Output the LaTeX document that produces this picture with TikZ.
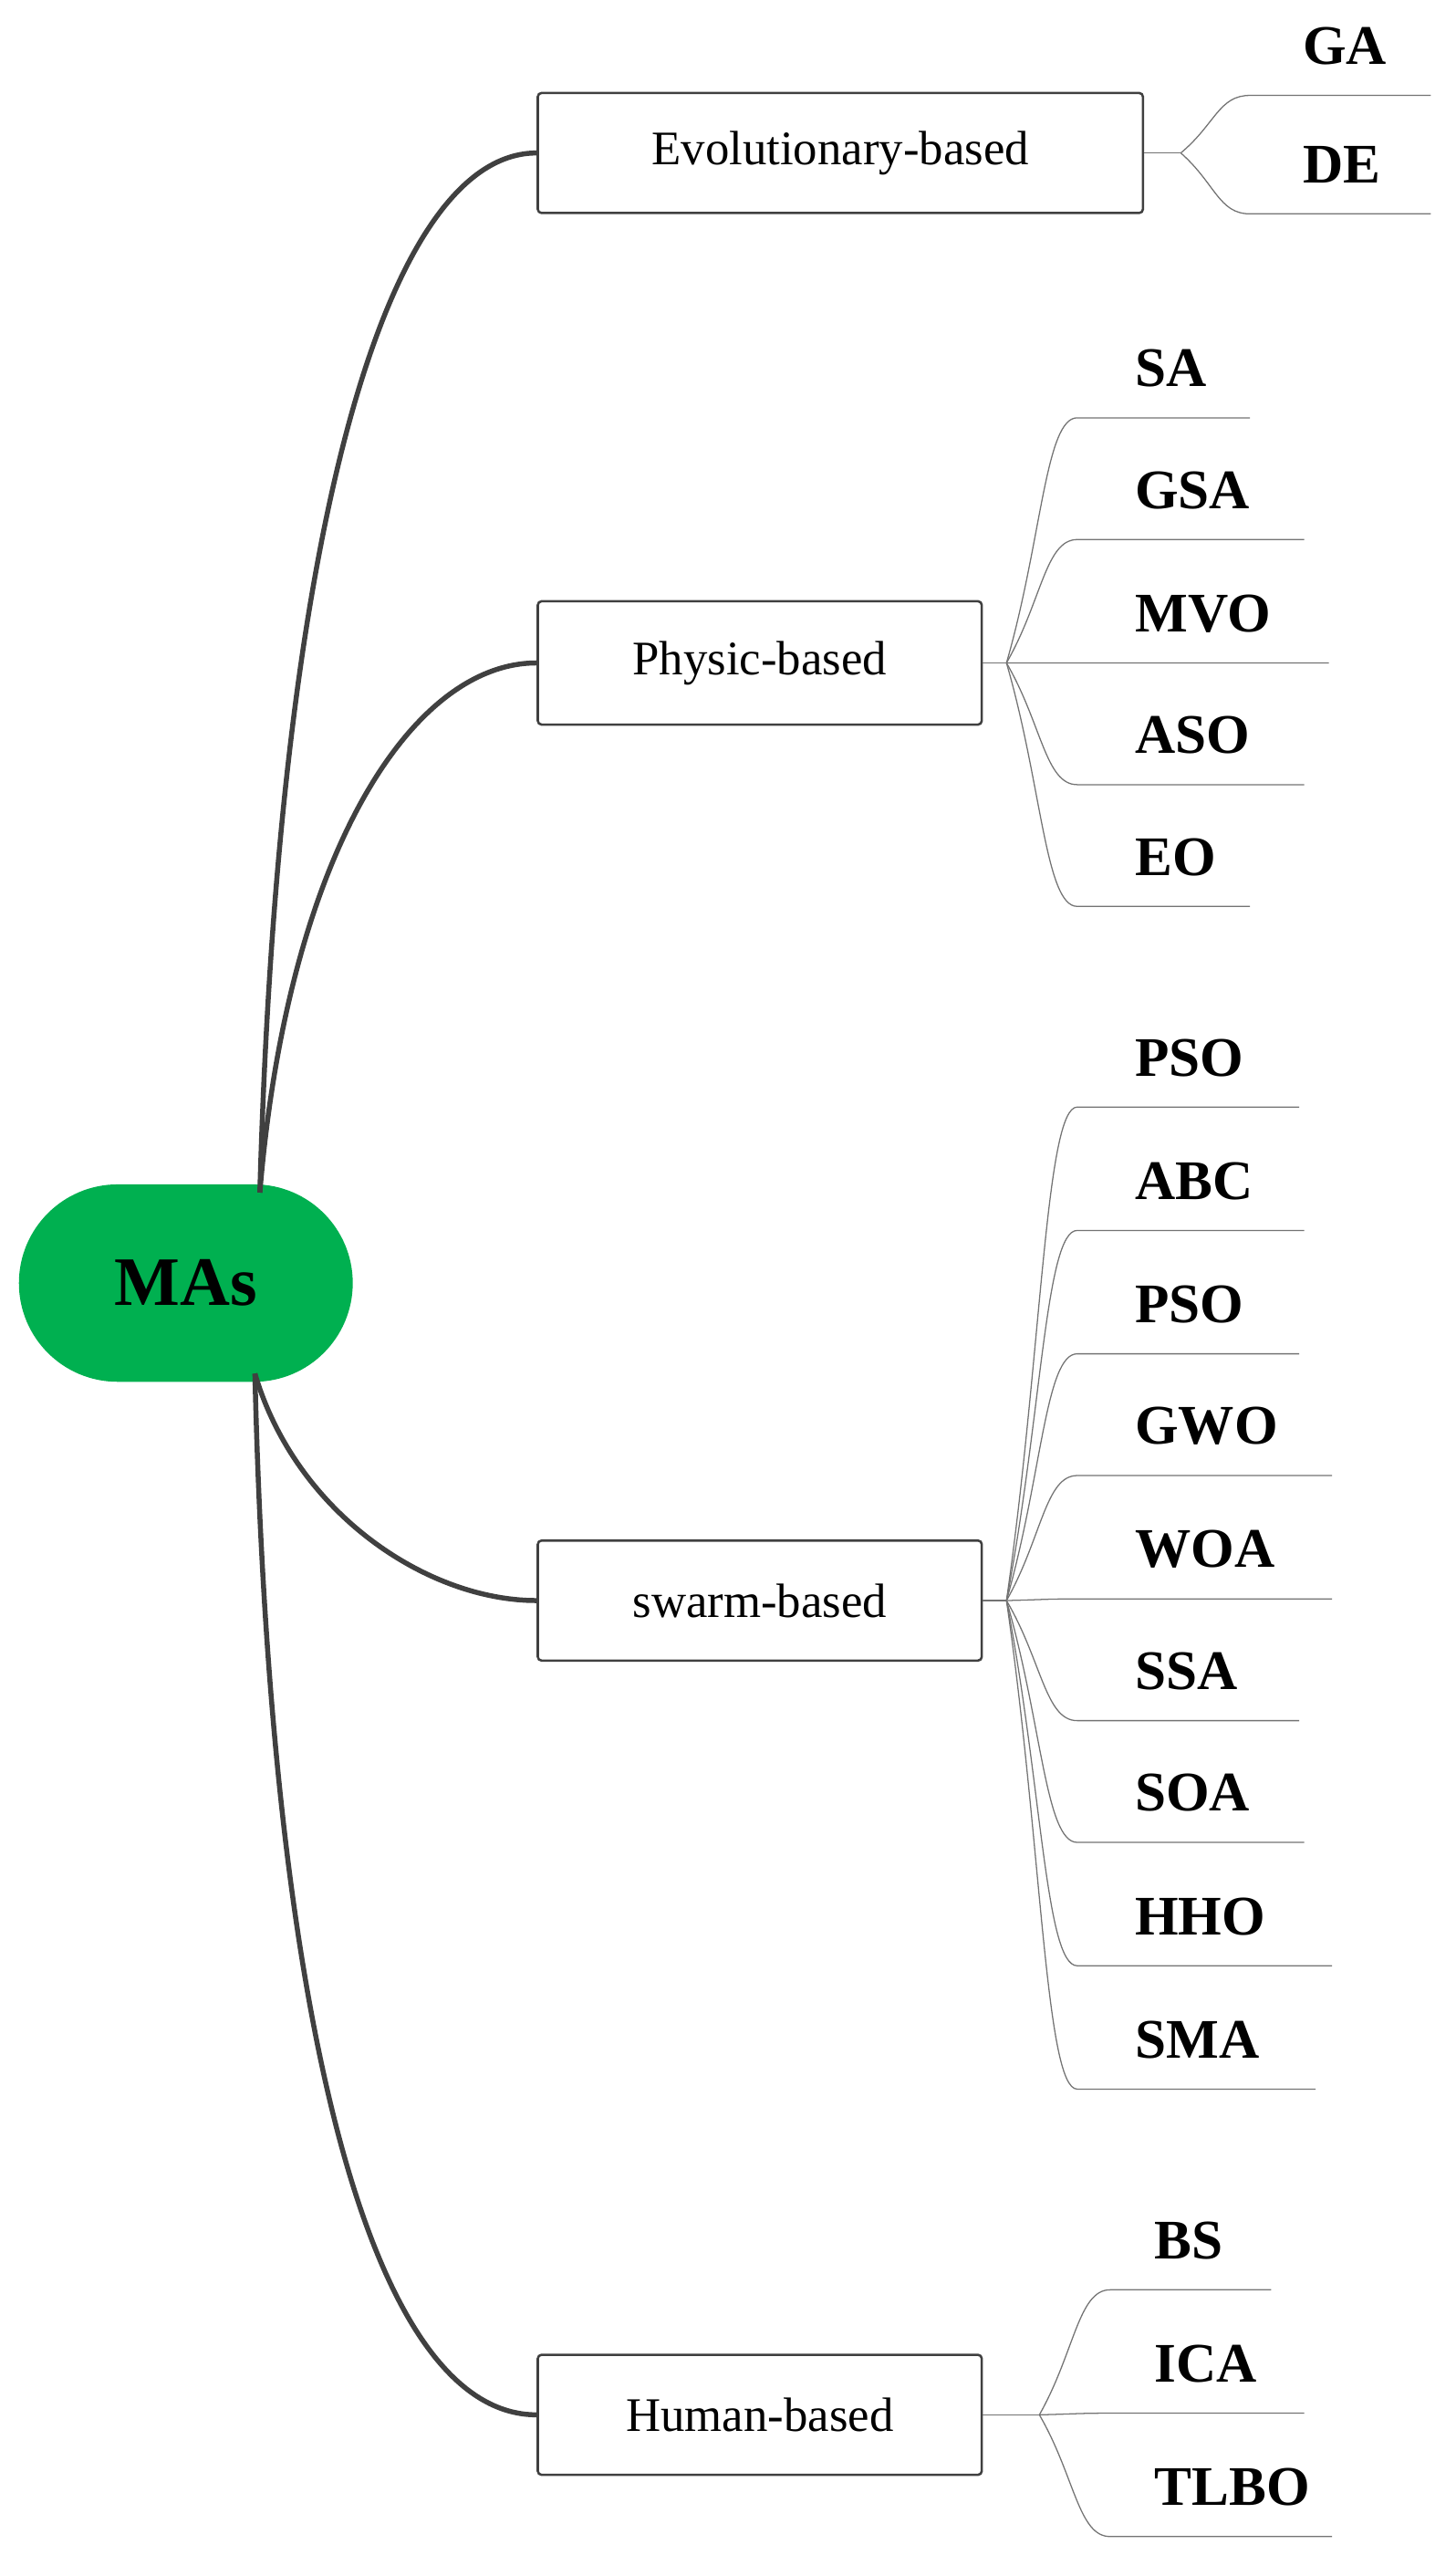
\documentclass[tikz,border=0pt]{standalone}
\usepackage{fontspec}
\setmainfont{Liberation Serif}
\usetikzlibrary{calc}
\definecolor{mgreen}{HTML}{00B050}
\definecolor{lgray}{HTML}{404040}
\begin{document}
\begin{tikzpicture}[x=0.03cm,y=-0.03cm,
  cat/.style={draw=lgray,line width=1.2pt,rounded corners=2pt,fill=white,inner sep=0pt,font=\fontsize{25}{29}\selectfont},
  leaf/.style={anchor=west,inner sep=0pt,font=\bfseries\fontsize{29}{34}\selectfont},
  main/.style={draw=lgray,line width=2.6pt},
  thin/.style={draw=gray!90!black,line width=0.6pt}]
\useasboundingbox (0,0) rectangle (885,1566);
\node[fill=mgreen,rounded corners=60*0.03cm,minimum width=203*0.03cm,minimum height=120*0.03cm,inner sep=0pt,font=\bfseries\fontsize{36}{42}\selectfont] (mas) at (113,780) {MAs};
\node[cat,minimum width=368*0.03cm,minimum height=73*0.03cm] (evo) at (511,93) {Evolutionary-based};
\node[cat,minimum width=270*0.03cm,minimum height=75*0.03cm] (phy) at (462,403) {Physic-based};
\node[cat,minimum width=270*0.03cm,minimum height=73*0.03cm] (swa) at (462,973) {swarm-based};
\node[cat,minimum width=270*0.03cm,minimum height=73*0.03cm] (hum) at (462,1468) {Human-based};
\coordinate (mt) at (158,725);
\coordinate (mb) at (155,835);
\draw[main] (mt) .. controls (170,300) and (240,93) .. (evo.west);
\draw[main] (mt) .. controls (175,520) and (250,403) .. (phy.west);
\draw[main] (mb) .. controls (180,920) and (260,973) .. (swa.west);
\draw[main] (mb) .. controls (165,1250) and (230,1468) .. (hum.west);
\coordinate (fe) at (718,93);
\coordinate (fp) at (612,403);
\coordinate (fs) at (612,973);
\coordinate (fh) at (632,1468);
\draw[thin] (evo.east) -- (fe);
\draw[thin] (phy.east) -- (fp);
\draw[thin] (swa.east) -- (fs);
\draw[thin] (hum.east) -- (fh);
\foreach \f/\n/\t/\y/\s/\x/\e in {
  fe/ga/GA/28/760/792/870, fe/de/DE/100/760/792/870,
  fp/sa/SA/224/655/690/760, fp/gsa/GSA/298/655/690/793, fp/mvo/MVO/373/655/690/808, fp/aso/ASO/447/655/690/793, fp/eo/EO/521/655/690/760,
  fs/pso/PSO/643/655/690/790, fs/abc/ABC/718/655/690/793, fs/psob/PSO/793/655/690/790, fs/gwo/GWO/867/655/690/810, fs/woa/WOA/942/655/690/810, fs/ssa/SSA/1016/655/690/790, fs/soa/SOA/1090/655/690/793, fs/hho/HHO/1165/655/690/810, fs/sma/SMA/1240/655/690/800,
  fh/bs/BS/1362/675/702/773, fh/ica/ICA/1437/675/702/793, fh/tlbo/TLBO/1512/675/702/810} {
  \node[leaf] (\n) at (\x,\y) {\t};
  \coordinate (\n s) at (\s,\y+30);
  \coordinate (\n e) at (\e,\y+30);
  \draw[thin] (\f) .. controls ($(\f)!0.5!(\n s)$) and ($(\n s)!0.45!(\f |- \n s)$) .. (\n s) -- (\n e);
}
\end{tikzpicture}
\end{document}
